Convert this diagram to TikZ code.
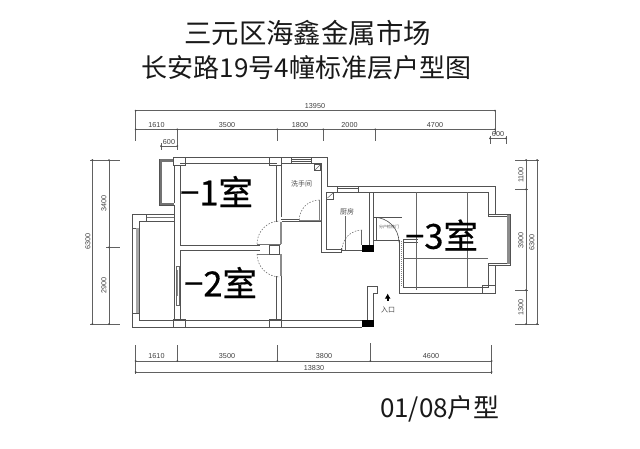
\documentclass[tikz,border=0pt]{standalone}
\usepackage{fontspec}
\usetikzlibrary{arrows.meta}
\setmainfont{Liberation Sans}
\newfontfamily\cjk{Noto Sans CJK SC}
\newfontfamily\cjkheavy[FakeBold=0.5]{Noto Sans CJK SC}
\begin{document}
\begin{tikzpicture}[x=1pt,y=-1pt,
  wall/.style={draw=black!68,line width=0.85pt},
  thick wall/.style={draw=black!55,line width=2.2pt},
  thin wall/.style={draw=black!60,line width=0.55pt},
  dim/.style={draw=black!62,line width=0.65pt},
  door/.style={draw=black!60,line width=0.55pt,dash pattern=on 1.5pt off 1.5pt},
  dimtext/.style={font=\fontsize{7.2}{7.2}\selectfont,text=black!75,inner sep=0pt},
  vdimtext/.style={dimtext,rotate=90},
  room/.style={font=\cjkheavy\fontsize{34.5}{34.5}\selectfont,text=black,inner sep=0pt},
  roomtag/.style={font=\cjk\fontsize{7}{7}\selectfont,text=black!70,inner sep=0pt},
  titletext/.style={text=black!90,inner sep=0pt},
  dimdot/.style={fill=black!70,draw=none}]
\useasboundingbox (0,0) rectangle (640,448);
\fill[white] (0,0) rectangle (640,448);

% titles
\node[titletext,font=\cjk\fontsize{27.4}{27.4}\selectfont] (t1) at (307.5,33) {三元区海鑫金属市场};
\node[titletext,font=\cjk\fontsize{26}{26}\selectfont] (t2) at (306.5,68) {长安路19号4幢标准层户型图};
\node[titletext,font=\cjk\fontsize{26}{26}\selectfont] (t3) at (440,409) {01/08户型};

% top dimensions
\draw[dim] (135.7,110.7) -- (495,110.7);
\draw[dim] (135.7,129.3) -- (495,129.3);
\draw[dim] (135.7,110.7) -- (135.7,140.7);
\draw[dim] (177.3,129.3) -- (177.3,140.7);
\draw[dim] (277.3,129.3) -- (277.3,140.7);
\draw[dim] (323.3,129.3) -- (323.3,140.7);
\draw[dim] (375.3,129.3) -- (375.3,140.7);
\draw[dim] (495,110.7) -- (495,134);
\draw[dim] (161,146) -- (177.5,146) (161,143) -- (161,150) (177.3,140) -- (177.3,150);
\draw[dim] (490,138.3) -- (506,138.3) (490,136) -- (490,144) (506,136) -- (506,144);
\foreach \p in {135.7,495} \fill[dimdot] (\p,110.7) circle (1);
\foreach \p in {135.7,177.3,277.3,323.3,375.3,495} \fill[dimdot] (\p,129.3) circle (1);
\foreach \p in {161,177.3} \fill[dimdot] (\p,146) circle (1);
\foreach \p in {490,506} \fill[dimdot] (\p,138.3) circle (1);
\node[dimtext] (d1) at (315,106) {13950};
\node[dimtext] (d2) at (156.5,125) {1610};
\node[dimtext] (d3) at (227,125) {3500};
\node[dimtext] (d4) at (300,125) {1800};
\node[dimtext] (d5) at (349.5,125) {2000};
\node[dimtext] (d6) at (435,125) {4700};
\node[dimtext] (d7) at (169,142) {600};
\node[dimtext] (d8) at (498,134) {600};

% left dimensions
\draw[dim] (92.3,160) -- (92.3,324) (109,160) -- (109,324);
\draw[dim] (90,160) -- (120,160) (106,247.3) -- (120,247.3) (90,324) -- (120,324);
\foreach \p in {160,324} {\fill[dimdot] (92.3,\p) circle (1); \fill[dimdot] (109,\p) circle (1);}
\fill[dimdot] (109,247.3) circle (1);
\node[vdimtext] (d9) at (88,241) {6300};
\node[vdimtext] (d10) at (104,203) {3400};
\node[vdimtext] (d11) at (104,285) {2900};

% right dimensions
\draw[dim] (526,160) -- (526,324) (537,160) -- (537,324);
\draw[dim] (515,160) -- (539,160) (515,189.3) -- (528,189.3) (515,290) -- (528,290) (515,324) -- (539,324);
\foreach \p in {160,189.3,290,324} \fill[dimdot] (526,\p) circle (1);
\foreach \p in {160,324} \fill[dimdot] (537,\p) circle (1);
\node[vdimtext] (d12) at (521,175) {1100};
\node[vdimtext] (d13) at (521,240) {3900};
\node[vdimtext] (d14) at (521,307) {1300};
\node[vdimtext] (d15) at (532,242) {6300};

% bottom dimensions
\draw[dim] (135.7,361) -- (491.7,361) (135.7,372) -- (491.7,372);
\draw[dim] (135.7,345) -- (135.7,374) (177.3,345) -- (177.3,362) (277.3,345) -- (277.3,362) (370.3,343) -- (370.3,362) (491.7,345) -- (491.7,374);
\foreach \p in {135.7,177.3,277.3,370.3,491.7} \fill[dimdot] (\p,361) circle (1);
\foreach \p in {135.7,491.7} \fill[dimdot] (\p,372) circle (1);
\node[dimtext] (d16) at (156.5,356.5) {1610};
\node[dimtext] (d17) at (227,356.5) {3500};
\node[dimtext] (d18) at (324,356.5) {3800};
\node[dimtext] (d19) at (431,356.5) {4600};
\node[dimtext] (d20) at (314,368) {13830};

% top wall, room 1
\draw[wall] (173.3,157) -- (327.3,157) -- (327.3,186.7) -- (495,186.7) -- (495,214.3);
\draw[wall] (180,163.3) -- (276.7,163.3) (281.7,163.3) -- (321.7,163.3);
\draw[wall] (173.3,157) rectangle (185.5,165);
\draw[wall] (269.5,157) rectangle (281.7,165);
\draw[wall] (291,157) rectangle (311.7,163.3) (291,159) -- (311.7,159) (291,161) -- (311.7,161);
\draw[wall] (180,165) -- (180,245) -- (260,245);
\draw[wall] (276.7,165) -- (276.7,222);
\draw[wall] (281.7,163.3) -- (281.7,217);
\draw[wall] (174,165) -- (174,203);
\draw[wall] (174,205) -- (174,320.7);
\draw[wall] (180,250) -- (180,320.7) (180,250) -- (260,250);

% left bay of room 1
\draw[thick wall] (160.5,161) -- (160.5,204) (160,204) -- (174,204) (160,160.5) -- (173,160.5);
\draw[wall] (159,159) -- (159,205.5) -- (174,205.5);

% balcony, lower left
\draw[wall] (174,214) -- (132.3,214) -- (132.3,327.3) -- (362,327.3);
\draw[thick wall,line width=1.8pt] (146,217.5) -- (174,217.5);
\draw[wall] (146,221) -- (174,221) (146,214) -- (146,221) -- (139.3,221) -- (139.3,228) -- (132.3,228);
\draw[line width=3.5pt,draw=black!35] (137.5,228) -- (137.5,313);
\draw[wall] (139.3,228) -- (139.3,320.7) -- (362,320.7) (132.3,313) -- (139.3,313);
\draw[wall] (173.5,319) rectangle (185.5,327.3);
\draw[wall] (269.5,319) rectangle (281.7,327.3);

% sliding door of room 2
\draw[thin wall] (176,266.7) rectangle (179,305);
\draw[draw=black!45,line width=0.6pt] (177.2,270) -- (177.2,296);

% doors of rooms 1 and 2
\draw[thick wall,line width=1.6pt] (257,244.3) -- (281,244.3) (257,254.3) -- (281,254.3);
\draw[wall] (269.5,245) rectangle (279,254);
\draw[thick wall,line width=1.8pt,draw=black!45] (280.6,222) -- (280.6,244) (280.6,254) -- (280.6,276);
\draw[door] (257,244) arc[start angle=180,end angle=270,radius=23];
\draw[door] (257,254) arc[start angle=180,end angle=90,radius=23];
\draw[wall] (276.7,276) -- (276.7,320.7) (281.7,276) -- (281.7,320.7);

% wash room
\node[roomtag] (wash) at (301.7,184) {洗手间};
\draw[wall] (280.7,219.3) -- (299,219.3) (281.7,221.7) -- (321.7,221.7);
\draw[thick wall,line width=1.5pt,draw=black!50] (299.3,220.3) -- (321,220.3);
\draw[thick wall,line width=1.5pt,draw=black!50] (319.3,200) -- (319.3,220);
\draw[door] (299.3,220) arc[start angle=180,end angle=270,radius=20];
\draw[wall] (321.7,163.3) -- (321.7,252.7) -- (342,252.7);
\draw[wall] (314,164.5) rectangle (320.7,170.6);
\draw[thin wall] (315,170) -- (320,165);

% kitchen
\draw[wall] (326.3,192.3) -- (326.3,249.3) -- (342,249.3);
\draw[wall] (326.3,192.3) -- (488.3,192.3);
\draw[wall] (337.3,186.7) rectangle (358.3,192.3) (337.3,188.6) -- (358.3,188.6);
\draw[wall] (326.5,192.5) rectangle (333.5,199);
\draw[thin wall] (327.5,198) -- (333,193);
\node[roomtag] (kit) at (347,212) {厨房};
\draw[thin wall] (345,216) -- (345,250);
\draw[wall] (342,250) -- (362,250) (341.7,248) -- (341.7,253);
\draw[door] (342,250) arc[start angle=180,end angle=270,radius=20];
\draw[thin wall] (361.7,230.3) -- (361.7,245);
\draw[wall] (369,192.3) -- (369,245) (373.3,192.3) -- (373.3,245);
\fill[black] (361.7,245) rectangle (374,252.3);

% closet door by room 3
\draw[wall] (374,217.3) -- (402,217.3) (376.7,217.3) -- (376.7,241) (373.3,240.7) -- (399,240.7);
\draw[draw=black!70,line width=0.6pt] (374,217.3) arc[start angle=270,end angle=360,radius=25];
\node[roomtag,font=\cjk\fontsize{4}{4}\selectfont] (closet) at (389,226.5) {分户检修门};

% room 3
\draw[wall] (488.3,192.3) -- (488.3,216);
\draw[wall] (488.3,263) -- (488.3,287.3) -- (403.3,287.3) -- (403.3,240);
\draw[wall] (399,240) -- (399,293.3) -- (495,293.3) -- (495,265);
\draw[wall] (403.3,239) -- (418,239) (403.3,242) -- (418,242);
\draw[draw=black!50,line width=1pt,dash pattern=on 1pt off 1pt] (401.2,241) -- (401.2,286);
\draw[wall] (482.3,285.7) rectangle (495,293.3);
\draw[thin wall] (416.7,192.3) -- (416.7,290);
\draw[thin wall] (467.7,192.3) -- (467.7,287.3);
\draw[thin wall] (403.3,258.3) -- (488.3,258.3);

% right bay
\draw[wall] (488.3,216.3) -- (507,216.3) (488.3,214.3) -- (510,214.3) -- (510,265) -- (488.3,265) (488.3,263) -- (507,263);
\draw[line width=2.2pt,draw=black!45] (508.5,215) -- (508.5,264);

% entrance
\draw[wall] (362,320.7) -- (367.3,320.7) -- (367.3,286.7) -- (377.7,286.7) -- (377.7,293.3) -- (373.3,293.3) -- (373.3,320);
\fill[black] (362.3,320) rectangle (374,327.3);
\coordinate (arrowtip) at (387.7,293.5);
\coordinate (arrowend) at (387.7,301);
\draw[line width=2pt,-{Latex[length=5pt,width=6pt]},black] (arrowend) -- (arrowtip);
\node[roomtag] (ent) at (388,309.5) {入口};

% room labels
\node[room,anchor=west] (r1) at (180,191.5) {−1室};
\node[room,anchor=west] (r2) at (184,282.5) {−2室};
\node[room,anchor=west] (r3) at (405,235) {−3室};
\end{tikzpicture}
\end{document}
